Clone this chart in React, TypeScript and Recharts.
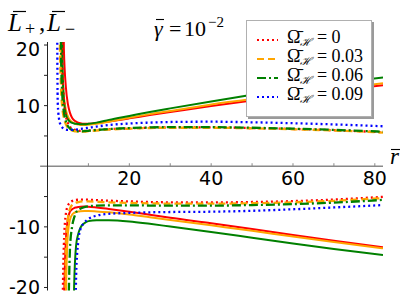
import React from 'react'
import { LineChart, Line, XAxis, YAxis, ReferenceLine, ReferenceDot, Legend } from 'recharts'

// r grid shared by every curve
const rValues = [2.2, 2.5, 2.8, 3, 3.3, 3.6, 4, 4.5, 5, 5.5, 6, 6.5, 7, 7.5, 8, 9, 10, 12, 15, 20, 25, 30, 40, 50, 60, 70, 82]

// L+ branch
const redPlusSolid = [null, null, null, null, null, 60, 19.5, 13, 10.2, 8.8, 8.0, 7.6, 7.35, 7.2, 7.1, 7.0, 7.0, 7.15, 7.4, 7.9, 8.45, 8.95, 9.95, 10.85, 11.65, 12.45, 13.35]
const orangePlusSolid = [null, null, null, 60, 22, 15, 11.5, 9.3, 8.2, 7.6, 7.3, 7.1, 6.95, 6.87, 6.82, 6.8, 6.85, 7.0, 7.35, 8.0, 8.6, 9.1, 10.2, 11.1, 11.9, 12.7, 13.7]
const greenPlusSolid = [null, null, null, null, 60, 19, 11, 8.6, 7.7, 7.35, 7.15, 7.05, 7.0, 6.97, 6.95, 6.95, 7.0, 7.2, 7.65, 8.3, 8.95, 9.55, 10.7, 11.8, 12.8, 13.7, 14.65]
const redPlusDot = [null, null, null, null, 60, 17, 11, 8.3, 7.1, 6.5, 6.2, 6.05, 5.95, 5.9, 5.85, 5.85, 5.9, 6.0, 6.12, 6.25, 6.35, 6.4, 6.4, 6.3, 6.15, 5.95, 5.6]
const orangePlusDash = [null, null, 60, 22, 13, 9.8, 8.0, 6.9, 6.35, 6.05, 5.9, 5.8, 5.75, 5.72, 5.7, 5.72, 5.78, 5.9, 6.05, 6.2, 6.3, 6.35, 6.35, 6.25, 6.1, 5.9, 5.55]
const greenPlusDashDot = [null, null, null, 60, 19, 12, 9.0, 7.4, 6.6, 6.2, 6.0, 5.9, 5.8, 5.77, 5.75, 5.78, 5.85, 5.98, 6.13, 6.3, 6.4, 6.45, 6.45, 6.35, 6.2, 6.0, 5.7]
const bluePlusDot = [60, 10.5, 7.9, 7.2, 6.7, 6.4, 6.2, 6.05, 6.0, 6.0, 6.0, 6.02, 6.05, 6.1, 6.15, 6.25, 6.35, 6.55, 6.8, 7.05, 7.2, 7.3, 7.35, 7.25, 7.1, 6.9, 6.6]

// L- branch
const redMinusDot = [null, null, null, null, -60, -30, -13, -7.8, -6.5, -6.0, -5.75, -5.62, -5.55, -5.52, -5.5, -5.5, -5.52, -5.58, -5.68, -5.8, -5.9, -5.95, -5.97, -5.9, -5.75, -5.5, -5.05]
const redMinusSolid = [null, null, null, null, null, -60, -25, -12, -8.6, -7.5, -7.1, -6.9, -6.8, -6.72, -6.68, -6.65, -6.67, -6.8, -7.05, -7.5, -8.0, -8.5, -9.4, -10.35, -11.35, -12.3, -13.35]
const orangeMinusSolid = [null, null, null, null, null, null, -60, -22, -11, -8.8, -8.0, -7.7, -7.55, -7.47, -7.42, -7.38, -7.38, -7.45, -7.6, -7.95, -8.4, -8.85, -9.75, -10.65, -11.6, -12.5, -13.55]
const orangeMinusDash = [null, null, null, null, null, null, -60, -14, -8.5, -7.0, -6.4, -6.15, -6.0, -5.92, -5.85, -5.8, -5.8, -5.85, -5.95, -6.05, -6.12, -6.17, -6.18, -6.1, -5.95, -5.7, -5.25]
const greenMinusDashDot = [null, null, null, null, null, null, null, -60, -30, -13.5, -10, -8.5, -7.6, -7.2, -7.0, -6.75, -6.6, -6.5, -6.45, -6.45, -6.48, -6.5, -6.5, -6.4, -6.25, -6.0, -5.55]
const greenMinusSolid = [null, null, null, null, null, null, null, null, null, null, -60, -20, -13, -11.2, -10.2, -9.4, -9.05, -8.9, -8.9, -9.1, -9.5, -9.95, -10.85, -11.8, -12.75, -13.65, -14.65]
const blueMinusDot = [null, null, null, null, null, null, null, null, null, null, null, -60, -18, -12.5, -10.5, -9.3, -8.7, -8.15, -7.85, -7.7, -7.6, -7.55, -7.5, -7.35, -7.1, -6.8, -6.4]

const omegaLabels = ['0', '0.03', '0.06', '0.09']
const xTicks = [10, 20, 30, 40, 50, 60, 70, 80]
const xTickLabels = [20, 40, 60, 80]
const yTicks = [-20, -15, -10, -5, 5, 10, 15, 20]

const RED = '#ff0000'
const ORANGE = '#ffa500'
const GREEN = '#008000'
const BLUE = '#0000ff'
const DOT = '2 3'
const DASH = '7 4'
const DASHDOT = '9 3 2 3'

const series = [
  { key: 'redPlusSolid', values: redPlusSolid, color: RED, dash: undefined },
  { key: 'orangePlusSolid', values: orangePlusSolid, color: ORANGE, dash: undefined },
  { key: 'greenPlusSolid', values: greenPlusSolid, color: GREEN, dash: undefined },
  { key: 'redMinusSolid', values: redMinusSolid, color: RED, dash: undefined },
  { key: 'orangeMinusSolid', values: orangeMinusSolid, color: ORANGE, dash: undefined },
  { key: 'greenMinusSolid', values: greenMinusSolid, color: GREEN, dash: undefined },
  { key: 'redPlusDot', values: redPlusDot, color: RED, dash: DOT },
  { key: 'orangePlusDash', values: orangePlusDash, color: ORANGE, dash: DASH },
  { key: 'greenPlusDashDot', values: greenPlusDashDot, color: GREEN, dash: DASHDOT },
  { key: 'bluePlusDot', values: bluePlusDot, color: BLUE, dash: DOT },
  { key: 'redMinusDot', values: redMinusDot, color: RED, dash: DOT },
  { key: 'orangeMinusDash', values: orangeMinusDash, color: ORANGE, dash: DASH },
  { key: 'greenMinusDashDot', values: greenMinusDashDot, color: GREEN, dash: DASHDOT },
  { key: 'blueMinusDot', values: blueMinusDot, color: BLUE, dash: DOT },
]

const legendItems = [
  { color: RED, dash: DOT },
  { color: ORANGE, dash: DASH },
  { color: GREEN, dash: DASHDOT },
  { color: BLUE, dash: DOT },
]

const data = rValues.map((r, i) => {
  const row: Record<string, number | null> = { r }
  series.forEach((s) => {
    row[s.key] = s.values[i]
  })
  return row
})

const serif = '"Liberation Serif", "DejaVu Serif", serif'
const AXIS_DARK = '#222'
const AXIS_GRAY = '#8a8a8a'

function YTick({ x, y, payload }: any) {
  const v = payload.value
  if (Math.abs(v) !== 10 && Math.abs(v) !== 20) return <g />
  return (
    <text
      x={x}
      y={y + (v === 20 ? 3.5 : 0)}
      textAnchor="end"
      dominantBaseline="central"
      fontFamily="DejaVu Sans"
      fontSize={19}
      fill="#000"
    >
      {v}
    </text>
  )
}

function LegendBox() {
  return (
    <div
      style={{
        background: '#fff',
        border: '1px solid #b0b0b0',
        boxShadow: '2px 2px 0 #9a9a9a',
        padding: '9px 0 0 10px',
        boxSizing: 'border-box',
        width: 126,
        height: 97,
      }}
    >
      {legendItems.map((item, i) => (
        <div key={i} style={{ display: 'flex', alignItems: 'center', height: 19 }}>
          <svg width={21} height={6} style={{ marginRight: 9 }}>
            <line x1={0} y1={3} x2={21} y2={3} stroke={item.color} strokeWidth={2.2} strokeDasharray={item.dash} />
          </svg>
          <span style={{ fontFamily: serif, fontSize: 18, color: '#000', whiteSpace: 'nowrap', lineHeight: '19px' }}>
            {'\u03A9\u0304'}
            <sub style={{ fontSize: 11, fontStyle: 'italic', verticalAlign: '-3px' }}>{'\u210B'}</sub>
            {' = ' + omegaLabels[i]}
          </span>
        </div>
      ))}
    </div>
  )
}

export default function App() {
  return (
    <div style={{ position: 'absolute', left: 0, top: 0, width: 407, height: 305, background: '#fff' }}>
      <LineChart width={407} height={305} data={data} margin={{ top: 42, right: 24, bottom: 14.5, left: 7.5 }}>
        <XAxis dataKey="r" type="number" domain={[0, 82]} hide allowDataOverflow />
        <YAxis
          type="number"
          domain={[-20.5, 20.5]}
          allowDataOverflow
          ticks={yTicks}
          width={40}
          tickSize={3.5}
          tickMargin={4}
          axisLine={{ stroke: AXIS_DARK, strokeWidth: 1 }}
          tickLine={{ stroke: AXIS_DARK, strokeWidth: 1 }}
          tick={<YTick />}
          interval={0}
        />
        <ReferenceLine
          segment={[{ x: -1.8, y: 0 }, { x: 82, y: 0 }]}
          stroke={AXIS_GRAY}
          strokeWidth={1.5}
          ifOverflow="visible"
        />
        {xTicks.map((t) => (
          <ReferenceLine
            key={'xt' + t}
            segment={[{ x: t, y: 0 }, { x: t, y: 0.5 }]}
            stroke={AXIS_GRAY}
            strokeWidth={1}
            ifOverflow="visible"
          />
        ))}
        {xTickLabels.map((t) => (
          <ReferenceDot
            key={'xl' + t}
            x={t}
            y={0}
            r={0}
            fill="none"
            stroke="none"
            ifOverflow="visible"
            label={{ value: String(t), position: 'bottom', offset: 5, fontFamily: 'DejaVu Sans', fontSize: 19, fill: '#000' }}
          />
        ))}
        {series.map((s) => (
          <Line
            key={s.key}
            dataKey={s.key}
            type="monotone"
            stroke={s.color}
            strokeWidth={s.dash ? 2.3 : 2}
            strokeDasharray={s.dash}
            dot={false}
            activeDot={false}
            connectNulls={false}
            isAnimationActive={false}
          />
        ))}
        <Legend
          layout="vertical"
          align="center"
          verticalAlign="middle"
          content={<LegendBox />}
          wrapperStyle={{ left: 246, top: 20, width: 126, height: 97 }}
        />
      </LineChart>
      <svg width={407} height={305} style={{ position: 'absolute', left: 0, top: 0, pointerEvents: 'none' }}>
        {/* y-axis label: L+ , L- with bars */}
        <g fontFamily={serif} fill="#000">
          <text x={8} y={31} fontSize={25} fontStyle="italic">L</text>
          <text x={25} y={35} fontSize={18}>+</text>
          <text x={39} y={31} fontSize={25}>,</text>
          <text x={47} y={31} fontSize={25} fontStyle="italic">L</text>
          <text x={65} y={35} fontSize={18}>{'\u2212'}</text>
        </g>
        <line x1={13} y1={11.5} x2={26} y2={11.5} stroke="#000" strokeWidth={1.2} />
        <line x1={52} y1={11.5} x2={65} y2={11.5} stroke="#000" strokeWidth={1.2} />
        {/* gamma = 10^-2 */}
        <g fontFamily={serif} fill="#000">
          <text x={154} y={36} fontSize={22} fontStyle="italic">{'\u03B3'}</text>
          <text x={169} y={36} fontSize={22}>=</text>
          <text x={184} y={36} fontSize={22}>10</text>
          <text x={208} y={27} fontSize={15}>{'\u22122'}</text>
        </g>
        <line x1={156} y1={19.5} x2={164} y2={19.5} stroke="#000" strokeWidth={1.1} />
        {/* r axis label */}
        <text x={390} y={164} fontFamily={serif} fontSize={23} fontStyle="italic" fill="#000">r</text>
        <line x1={391} y1={149.5} x2={400} y2={149.5} stroke="#000" strokeWidth={1.1} />
      </svg>
    </div>
  )
}
